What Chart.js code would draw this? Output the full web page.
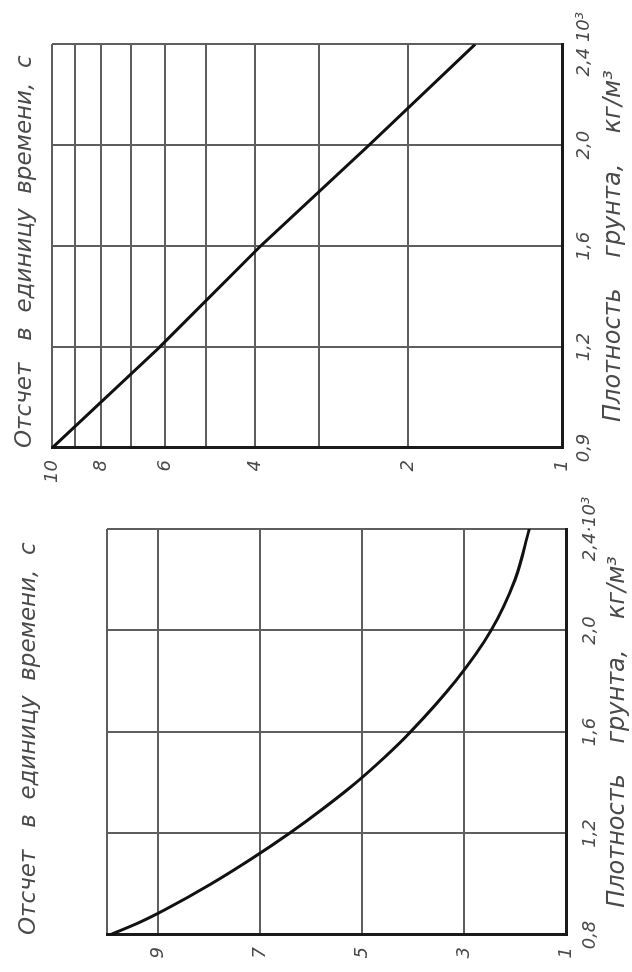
<!DOCTYPE html>
<html>
<head>
<meta charset="utf-8">
<script src="https://cdn.jsdelivr.net/npm/chart.js@4.4.1/dist/chart.umd.min.js"></script>
<style>
  html,body{margin:0;padding:0;background:#fff;}
  body{width:632px;height:972px;overflow:hidden;position:relative;}
  .rot{position:absolute;left:0;transform-origin:0 0;}
  #w1{top:0;width:490px;height:632px;transform:translate(0,490px) rotate(-90deg);}
  #w2{top:480px;width:492px;height:632px;transform:translate(0,492px) rotate(-90deg);}
  canvas{display:block;}
</style>
</head>
<body>
<div id="w1" class="rot"><canvas id="c1" width="490" height="632"></canvas></div>
<div id="w2" class="rot"><canvas id="c2" width="492" height="632"></canvas></div>
<script>
// ---- data (upper chart: log scale) ----
const densityTop = [0.8, 1.2, 1.6, 2.0, 2.4];
const countTop = [10, 6.15, 3.9, 2.39, 1.48];
const xTickValuesTop = [0.8, 1.2, 1.6, 2.0, 2.4];
const xTickLabelsTop = ['0,9', '1,2', '1,6', '2,0', '2,4 10³'];
const yTickValuesTop = [1, 2, 3, 4, 5, 6, 7, 8, 9, 10];
const yTickLabelsTop = ['1', '2', '', '4', '', '6', '', '8', '', '10'];
const yTitleTop = 'Отсчет   в  единицу  времени,  с';
const xTitleTop = 'Плотность    грунта,    кг/м³';

// ---- data (lower chart: linear scale) ----
const densityBottom = [0.8, 0.85, 0.9, 1.0, 1.1, 1.2, 1.3, 1.4, 1.5, 1.6, 1.8, 2.0, 2.2, 2.4];
const countBottom = [9.95, 9.36, 8.86, 7.97, 7.17, 6.43, 5.75, 5.12, 4.56, 4.05, 3.17, 2.47, 2.0, 1.72];
const xTickValuesBottom = [0.8, 1.2, 1.6, 2.0, 2.4];
const xTickLabelsBottom = ['0,8', '1,2', '1,6', '2,0', '2,4·10³'];
const yTickValuesBottom = [1, 3, 5, 7, 9, 10];
const yTickLabelsBottom = ['1', '3', '5', '7', '9', ''];
const yTitleBottom = 'Отсчет   в  единицу  времени,  с';
const xTitleBottom = 'Плотность    грунта,    кг/м³';

const FONT = '"DejaVu Sans", "Liberation Sans", sans-serif';
const TXT = '#4a4a4a';
const GRID = '#5e5e5e';

function lookup(values, labels, v) {
  const i = values.findIndex(t => Math.abs(t - v) < 1e-9);
  return i < 0 ? '' : labels[i];
}

function makeChart(id, cfg) {
  const pts = cfg.xs.map((x, i) => ({x: x, y: cfg.ys[i]}));
  return new Chart(document.getElementById(id), {
    type: 'line',
    data: {datasets: [{
      data: pts,
      borderColor: '#111',
      borderWidth: 3,
      pointRadius: 0,
      fill: false,
      tension: 0,
      cubicInterpolationMode: cfg.smooth ? 'monotone' : 'default'
    }]},
    options: {
      responsive: false,
      animation: false,
      devicePixelRatio: 1,
      layout: {padding: {left: 0, right: cfg.padRight, top: 0, bottom: 0}},
      plugins: {
        legend: {display: false},
        tooltip: {enabled: false},
        title: {
          display: true,
          text: cfg.yTitle,
          align: 'start',
          position: 'top',
          fullSize: false,
          color: TXT,
          font: {family: FONT, size: 23, style: 'italic', weight: 'normal', lineHeight: 1.2},
          padding: {top: cfg.titlePadTop, bottom: cfg.titlePadBottom}
        }
      },
      scales: {
        x: {
          type: 'linear',
          min: 0.8, max: 2.4,
          afterBuildTicks: s => { s.ticks = cfg.xTickValues.map(v => ({value: v})); },
          afterFit: s => { s.height = cfg.xAxisHeight; },
          grid: {color: GRID, lineWidth: 2, drawTicks: false},
          border: {color: '#1a1a1a', width: 3},
          ticks: {
            autoSkip: false, maxRotation: 0, padding: cfg.xTickPad,
            color: TXT,
            font: {family: FONT, size: 18, style: 'italic', lineHeight: 1.2},
            callback: v => lookup(cfg.xTickValues, cfg.xTickLabels, v)
          },
          title: {
            display: true, text: cfg.xTitle, color: TXT,
            font: {family: FONT, size: 24, style: 'italic', lineHeight: 1.2},
            padding: {top: 0, bottom: cfg.xTitlePadBottom}
          }
        },
        y: {
          type: cfg.logY ? 'logarithmic' : 'linear',
          min: 1, max: 10,
          afterBuildTicks: s => { s.ticks = cfg.yTickValues.map(v => ({value: v})); },
          afterFit: s => { s.width = cfg.yAxisWidth; },
          grid: {color: GRID, lineWidth: 2, drawTicks: false},
          border: {color: '#1a1a1a', width: 3},
          ticks: {
            autoSkip: false, padding: 12,
            color: TXT,
            font: {family: FONT, size: 18, style: 'italic', lineHeight: 1.2},
            callback: v => lookup(cfg.yTickValues, cfg.yTickLabels, v)
          }
        }
      }
    }
  });
}

makeChart('c1', {
  xs: densityTop, ys: countTop, smooth: false, logY: true,
  xTickValues: xTickValuesTop, xTickLabels: xTickLabelsTop,
  yTickValues: yTickValuesTop, yTickLabels: yTickLabelsTop,
  yTitle: yTitleTop, xTitle: xTitleTop,
  padRight: 42, yAxisWidth: 42, xAxisHeight: 70,
  titlePadTop: 11.2, titlePadBottom: 13.2,
  xTickPad: 12, xTitlePadBottom: 3.6
});

makeChart('c2', {
  xs: densityBottom, ys: countBottom, smooth: true, logY: false,
  xTickValues: xTickValuesBottom, xTickLabels: xTickLabelsBottom,
  yTickValues: yTickValuesBottom, yTickLabels: yTickLabelsBottom,
  yTitle: yTitleBottom, xTitle: xTitleBottom,
  padRight: 49, yAxisWidth: 37, xAxisHeight: 66,
  titlePadTop: 15.7, titlePadBottom: 63.7,
  xTickPad: 14, xTitlePadBottom: 0
});
</script>
</body>
</html>
